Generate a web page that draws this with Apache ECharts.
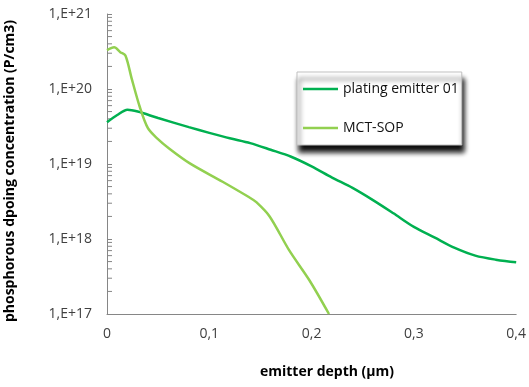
<!DOCTYPE html>
<html>
<head>
<meta charset="utf-8">
<script src="https://cdn.jsdelivr.net/npm/echarts@6/dist/echarts.min.js"></script>
<style>
  html, body { margin: 0; padding: 0; background: #fff; }
  #chart { width: 529px; height: 387px; }
</style>
</head>
<body>
<div id="chart"></div>
<script>
// depth (µm) vs concentration (P/cm3)
const platingEmitter = [
  [0, 3.6e19], [0.01, 4.5e19], [0.02, 5.3e19], [0.03, 5.0e19], [0.05, 4.1e19],
  [0.08, 3.1e19], [0.1, 2.6e19], [0.12, 2.2e19], [0.14, 1.9e19], [0.16, 1.55e19],
  [0.18, 1.25e19], [0.2, 9.3e18], [0.22, 6.6e18], [0.24, 4.8e18], [0.26, 3.3e18],
  [0.28, 2.2e18], [0.3, 1.45e18], [0.32, 1.05e18], [0.34, 7.6e17], [0.36, 6.0e17],
  [0.38, 5.3e17], [0.4, 4.9e17]
];
const mctSop = [
  [0, 3.3e20], [0.007, 3.6e20], [0.013, 3.1e20], [0.018, 2.8e20], [0.024, 1.4e20],
  [0.032, 5.8e19], [0.04, 3.0e19], [0.049, 2.2e19], [0.061, 1.6e19], [0.081, 1.02e19],
  [0.113, 5.8e18], [0.139, 3.6e18], [0.146, 3.1e18], [0.159, 2.0e18],
  [0.178, 7.1e17], [0.198, 2.8e17], [0.217, 1e17]
];
const seriesNames = ['plating emitter 01', 'MCT-SOP'];
const decades = [17, 18, 19, 20];
const mantissas = [2, 3, 4, 5, 6, 7, 8, 9];

// minor ticks of the log axis (2..9 in each decade)
const minorTicks = [];
decades.forEach(d => mantissas.forEach(m => minorTicks.push([0, m * Math.pow(10, d)])));

const axisGray = '#868686';
const labelColor = '#404040';

const chart = echarts.init(document.getElementById('chart'));
chart.setOption({
  animation: false,
  grid: { left: 107, right: 11, top: 14, bottom: 73 },
  xAxis: {
    type: 'value',
    min: 0, max: 0.4, interval: 0.1,
    axisLine: { lineStyle: { color: axisGray, width: 1 } },
    axisTick: { show: false },
    splitLine: { show: false },
    axisLabel: {
      color: labelColor, fontSize: 14, fontFamily: 'Open Sans', margin: 13,
      formatter: v => String(+v.toFixed(1)).replace('.', ',')
    }
  },
  yAxis: {
    type: 'log', logBase: 10,
    min: 1e17, max: 1e21,
    axisLine: { show: true, lineStyle: { color: axisGray, width: 1 } },
    axisTick: { show: true, inside: true, length: 5, lineStyle: { color: axisGray } },
    splitLine: { show: false },
    axisLabel: {
      color: labelColor, fontSize: 14, fontFamily: 'Open Sans', margin: 15,
      formatter: v => '1,E+' + Math.round(Math.log10(v))
    }
  },
  legend: {
    orient: 'vertical',
    left: 297, top: 72,
    data: seriesNames,
    itemWidth: 35, itemHeight: 14, itemGap: 25,
    padding: [10, 3, 10, 6],
    icon: 'path://M0,6 L35,6 L35,8.5 L0,8.5 Z',
    backgroundColor: '#fff',
    borderColor: '#bfbfbf', borderWidth: 1,
    shadowColor: 'rgba(0,0,0,0.95)', shadowBlur: 5, shadowOffsetX: 2, shadowOffsetY: 7,
    textStyle: { color: '#111', fontSize: 14, fontFamily: 'Open Sans' }
  },
  graphic: [
    {
      type: 'text', left: 260, top: 365,
      style: { text: 'emitter depth (µm)', font: 'bold 14px "Open Sans"', fill: '#000' }
    },
    {
      type: 'text', x: 10, y: 171, rotation: Math.PI / 2,
      style: {
        text: 'phosphorous dpoing concentration (P/cm3)', font: 'bold 14px "Open Sans"',
        fill: '#000', align: 'center', verticalAlign: 'middle'
      }
    }
  ],
  series: [
    {
      name: seriesNames[0], type: 'line', data: platingEmitter,
      smooth: 0.3, symbol: 'none',
      lineStyle: { color: '#00B050', width: 2.5 }, itemStyle: { color: '#00B050' }
    },
    {
      name: seriesNames[1], type: 'line', data: mctSop,
      smooth: 0.3, symbol: 'none',
      lineStyle: { color: '#92D050', width: 2.5 }, itemStyle: { color: '#92D050' }
    },
    {
      type: 'custom', data: minorTicks, silent: true, z: 1,
      renderItem: (params, api) => {
        const p = api.coord([api.value(0), api.value(1)]);
        return {
          type: 'line',
          shape: { x1: p[0], y1: p[1], x2: p[0] + 5, y2: p[1] },
          style: { stroke: axisGray, lineWidth: 1 }
        };
      }
    }
  ]
});
</script>
</body>
</html>
